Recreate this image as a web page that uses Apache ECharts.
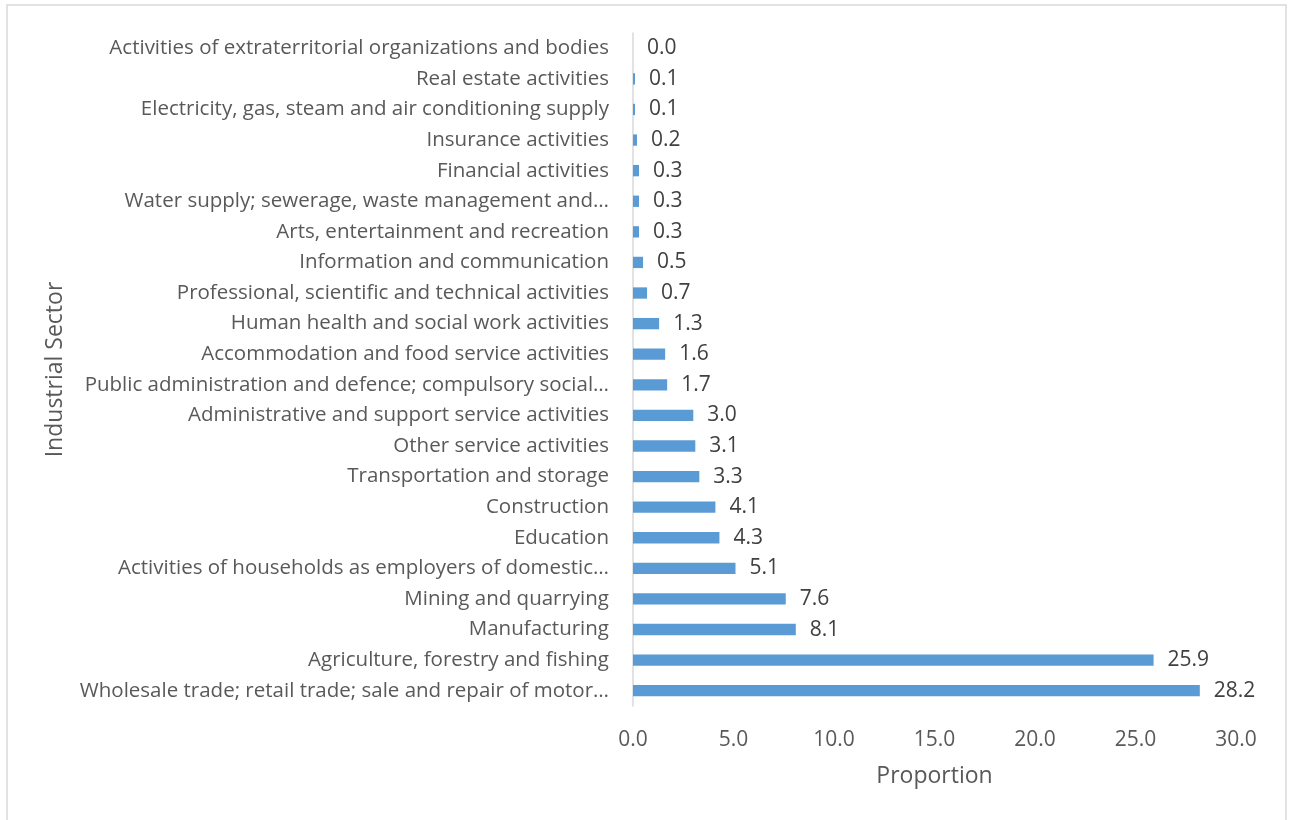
<!DOCTYPE html>
<html>
<head>
<meta charset="utf-8">
<script src="https://cdn.jsdelivr.net/npm/echarts@6/dist/echarts.min.js"></script>
<style>html,body{margin:0;padding:0;background:#fff;}#c{width:1290px;height:820px;}</style>
</head>
<body>
<div id="c"></div>
<script>
// categories listed bottom -> top
var categories = [
  "Wholesale trade; retail trade; sale and repair of motor…",
  "Agriculture, forestry and fishing",
  "Manufacturing",
  "Mining and quarrying",
  "Activities of households as employers of domestic…",
  "Education",
  "Construction",
  "Transportation and storage",
  "Other service activities",
  "Administrative and support service activities",
  "Public administration and defence; compulsory social…",
  "Accommodation and food service activities",
  "Human health and social work activities",
  "Professional, scientific and technical activities",
  "Information and communication",
  "Arts, entertainment and recreation",
  "Water supply; sewerage, waste management and…",
  "Financial activities",
  "Insurance activities",
  "Electricity, gas, steam and air conditioning supply",
  "Real estate activities",
  "Activities of extraterritorial organizations and bodies"
];
var proportions = [28.2, 25.9, 8.1, 7.6, 5.1, 4.3, 4.1, 3.3, 3.1, 3.0, 1.7, 1.6, 1.3, 0.7, 0.5, 0.3, 0.3, 0.3, 0.2, 0.1, 0.1, 0.0];
var xTicks = { min: 0, max: 30, interval: 5 };
var xAxisTitle = "Proportion";
var yAxisTitle = "Industrial Sector";

var FONT = "Open Sans";
var chart = echarts.init(document.getElementById('c'), null, { renderer: 'canvas' });
chart.setOption({
  animation: false,
  backgroundColor: '#ffffff',
  textStyle: { fontFamily: FONT },
  graphic: [{
    type: 'rect', silent: true, z: -1,
    shape: { x: 7, y: 5, width: 1279, height: 900 },
    style: { fill: 'none', stroke: '#D9D9D9', lineWidth: 1.5 }
  }],
  grid: { left: 633, right: 54, top: 33, bottom: 114, containLabel: false },
  xAxis: {
    type: 'value', min: xTicks.min, max: xTicks.max, interval: xTicks.interval,
    name: xAxisTitle, nameLocation: 'middle', nameGap: 59,
    nameTextStyle: { color: '#595959', fontSize: 23, fontFamily: FONT },
    axisLine: { show: false }, axisTick: { show: false }, splitLine: { show: false },
    axisLabel: { color: '#595959', fontSize: 21, margin: 24, fontFamily: FONT,
      formatter: function (v) { return v.toFixed(1); } }
  },
  yAxis: {
    type: 'category', data: categories,
    name: yAxisTitle, nameLocation: 'middle', nameGap: 566,
    nameTextStyle: { color: '#595959', fontSize: 23, fontFamily: FONT },
    axisLine: { show: true, lineStyle: { color: '#D9D9D9', width: 1.5 } },
    axisTick: { show: false }, splitLine: { show: false },
    axisLabel: { color: '#595959', fontSize: 20.5, margin: 24, fontFamily: FONT }
  },
  series: [{
    type: 'bar', data: proportions, barCategoryGap: '63%',
    itemStyle: { color: '#5B9BD5' },
    label: { show: true, position: 'right', distance: 14, color: '#404040', fontSize: 21, fontFamily: FONT,
      formatter: function (p) { return p.value.toFixed(1); } }
  }]
});
</script>
</body>
</html>
